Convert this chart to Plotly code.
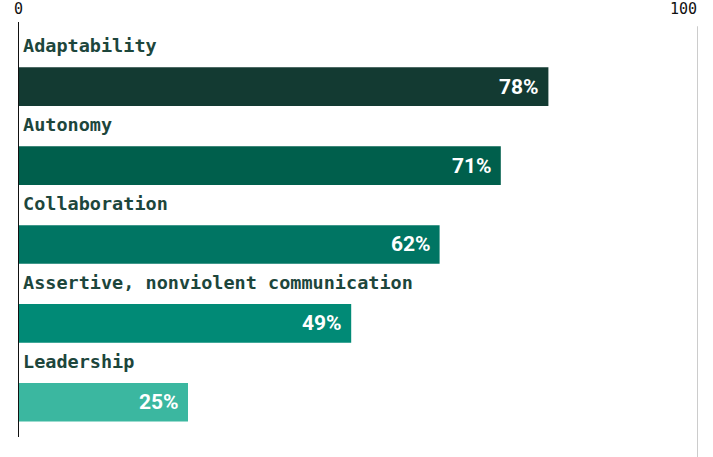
import plotly.graph_objects as go

skills = ["Adaptability", "Autonomy", "Collaboration",
          "Assertive, nonviolent communication", "Leadership"]
shares = [78, 71, 62, 49, 25]
colors = ["#133a32", "#005f4c", "#007563", "#018a76", "#3bb7a0"]
axis_ticks = [0, 100]
axis_tick_text = ["0", "100"]

pos = list(range(len(skills)))

fig = go.Figure(go.Bar(
    x=shares, y=pos, orientation="h",
    marker=dict(color=colors, line=dict(width=0)),
    width=0.49, hoverinfo="skip",
))

annotations = []
for i, (name, v) in enumerate(zip(skills, shares)):
    # category name above each bar
    annotations.append(dict(
        x=0, y=i - 0.52, xref="x", yref="y", text=f"<b>{name}</b>", showarrow=False,
        xanchor="left", yanchor="middle", xshift=3,
        font=dict(family="DejaVu Sans Mono", size=18.5, color="#1d463c"),
    ))
    # percentage inside the bar end
    annotations.append(dict(
        x=v, y=i, xref="x", yref="y", text=f"<b>{v}%</b>", showarrow=False,
        xanchor="right", yanchor="middle", xshift=-7,
        font=dict(family="Roboto", size=21, color="white"),
    ))

# axis tick labels along the top
for t, lab in zip(axis_ticks, axis_tick_text):
    annotations.append(dict(
        x=t, y=1, xref="x", yref="paper", text=lab, showarrow=False,
        xanchor="center" if t == 0 else "right", yanchor="bottom",
        yshift=2, xshift=0 if t == 0 else 1,
        font=dict(family="DejaVu Sans Mono", size=15, color="#111111"),
    ))

shapes = [
    dict(type="line", xref="x", yref="paper", x0=100, x1=100, y0=-0.05, y1=0.99,
         line=dict(color="#bbbbbb", width=1.5)),
    dict(type="line", xref="x", yref="paper", x0=0, x1=0, y0=0, y1=1,
         line=dict(color="#111111", width=2)),
]

fig.update_layout(
    width=713, height=457,
    margin=dict(l=18, r=15, t=22, b=20),
    paper_bgcolor="white", plot_bgcolor="white",
    showlegend=False,
    xaxis=dict(range=[0, 100], showgrid=False, zeroline=False,
               showticklabels=False, fixedrange=True),
    yaxis=dict(range=[4.44, -0.82], showgrid=False, zeroline=False,
               showticklabels=False, fixedrange=True),
    annotations=annotations, shapes=shapes,
)

fig.write_html("out.html")
